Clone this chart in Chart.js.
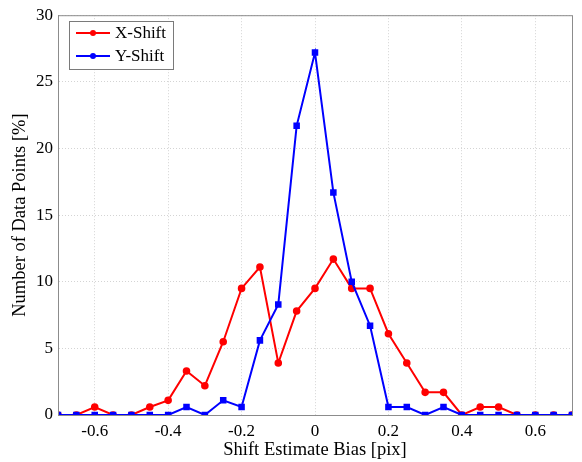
<!DOCTYPE html>
<html>
<head>
<meta charset="utf-8">
<script src="https://cdn.jsdelivr.net/npm/chart.js@4/dist/chart.umd.min.js"></script>
<style>
  html, body { margin: 0; padding: 0; background: #fff; }
  #wrap { width: 582px; height: 462px; }
</style>
</head>
<body>
<div id="wrap"><canvas id="chart-bias" width="582" height="462"></canvas></div>
<script>
const biasValues = [-0.7, -0.65, -0.6, -0.55, -0.5, -0.45, -0.4, -0.35, -0.3, -0.25, -0.2, -0.15, -0.1, -0.05,
  0, 0.05, 0.1, 0.15, 0.2, 0.25, 0.3, 0.35, 0.4, 0.45, 0.5, 0.55, 0.6, 0.65, 0.7];
const xShift = [0, 0, 0.6, 0, 0, 0.6, 1.1, 3.3, 2.2, 5.5, 9.5, 11.1, 3.9, 7.8,
  9.5, 11.7, 9.5, 9.5, 6.1, 3.9, 1.7, 1.7, 0, 0.6, 0.6, 0, 0, 0, 0];
const yShift = [0, 0, 0, 0, 0, 0, 0, 0.6, 0, 1.1, 0.6, 5.6, 8.3, 21.7,
  27.2, 16.7, 10.0, 6.7, 0.6, 0.6, 0, 0.6, 0, 0, 0, 0, 0, 0, 0];
const xTicks = [-0.6, -0.4, -0.2, 0, 0.2, 0.4, 0.6];
const yTicks = [0, 5, 10, 15, 20, 25, 30];

const FONT = "'Liberation Serif', 'Times New Roman', serif";
const toPoints = (ys) => biasValues.map((x, i) => ({ x, y: ys[i] }));

// box around the plot plus a MATLAB-style legend in the top-left corner
const frameAndLegend = {
  id: "frameAndLegend",
  afterDraw(chart) {
    const { ctx, chartArea: a } = chart;
    ctx.save();
    ctx.strokeStyle = "#8c8c8c";
    ctx.lineWidth = 1;
    ctx.strokeRect(a.left + 0.5, a.top + 0.5, a.right - a.left, a.bottom - a.top);

    const bx = 69, by = 21, bw = 104, bh = 48;
    ctx.fillStyle = "#fff";
    ctx.fillRect(bx, by, bw, bh);
    ctx.strokeStyle = "#7a7a7a";
    ctx.strokeRect(bx + 0.5, by + 0.5, bw, bh);

    chart.data.datasets.forEach((ds, i) => {
      const cy = 33 + i * 23;
      ctx.strokeStyle = ds.borderColor;
      ctx.lineWidth = 2;
      ctx.beginPath();
      ctx.moveTo(76, cy);
      ctx.lineTo(110, cy);
      ctx.stroke();
      ctx.fillStyle = ds.borderColor;
      ctx.beginPath();
      ctx.arc(93, cy, 3, 0, Math.PI * 2);
      ctx.fill();
      ctx.fillStyle = "#000";
      ctx.font = "17px " + FONT;
      ctx.textBaseline = "middle";
      ctx.fillText(ds.label, 115, cy + 1);
    });
    ctx.restore();
  },
};

new Chart(document.getElementById("chart-bias"), {
  type: "line",
  data: {
    datasets: [
      {
        label: "X-Shift",
        data: toPoints(xShift),
        borderColor: "#ff0000",
        backgroundColor: "#ff0000",
        borderWidth: 2,
        pointStyle: "circle",
        pointRadius: 2.8,
        tension: 0,
        order: 2,
      },
      {
        label: "Y-Shift",
        data: toPoints(yShift),
        borderColor: "#0000ff",
        backgroundColor: "#0000ff",
        borderWidth: 2,
        pointStyle: "rect",
        pointRadius: 3.2,
        tension: 0,
        order: 1,
      },
    ],
  },
  options: {
    responsive: false,
    animation: false,
    layout: { padding: { top: 13, right: 10, left: 0, bottom: 0 } },
    plugins: { legend: { display: false }, tooltip: { enabled: false } },
    scales: {
      x: {
        type: "linear",
        min: -0.7,
        max: 0.7,
        afterBuildTicks: (s) => { s.ticks = xTicks.map((v) => ({ value: v })); },
        afterFit: (s) => { s.height = 47; },
        grid: { color: "#d4d4d4", lineWidth: 1, tickLength: 0, drawTicks: false },
        border: { display: true, color: "#8c8c8c", dash: [1, 2] },
        ticks: {
          color: "#000",
          padding: 6,
          font: { family: FONT, size: 17 },
          callback: (v) => (v === 0 ? "0" : v.toFixed(1)),
        },
        title: {
          display: true,
          text: "Shift Estimate Bias [pix]",
          color: "#000",
          font: { family: FONT, size: 18.5 },
          padding: { top: 0, bottom: 1 },
        },
      },
      y: {
        min: 0,
        max: 30,
        afterBuildTicks: (s) => { s.ticks = yTicks.map((v) => ({ value: v })); },
        afterFit: (s) => { s.width = 58; },
        grid: { color: "#d4d4d4", lineWidth: 1, drawTicks: false },
        border: { display: true, color: "#8c8c8c", dash: [1, 2] },
        ticks: {
          color: "#000",
          padding: 5,
          font: { family: FONT, size: 17 },
        },
        title: {
          display: true,
          text: "Number of Data Points [%]",
          color: "#000",
          font: { family: FONT, size: 18.5 },
          padding: { top: 9, bottom: 0 },
        },
      },
    },
  },
  plugins: [frameAndLegend],
});
</script>
</body>
</html>
